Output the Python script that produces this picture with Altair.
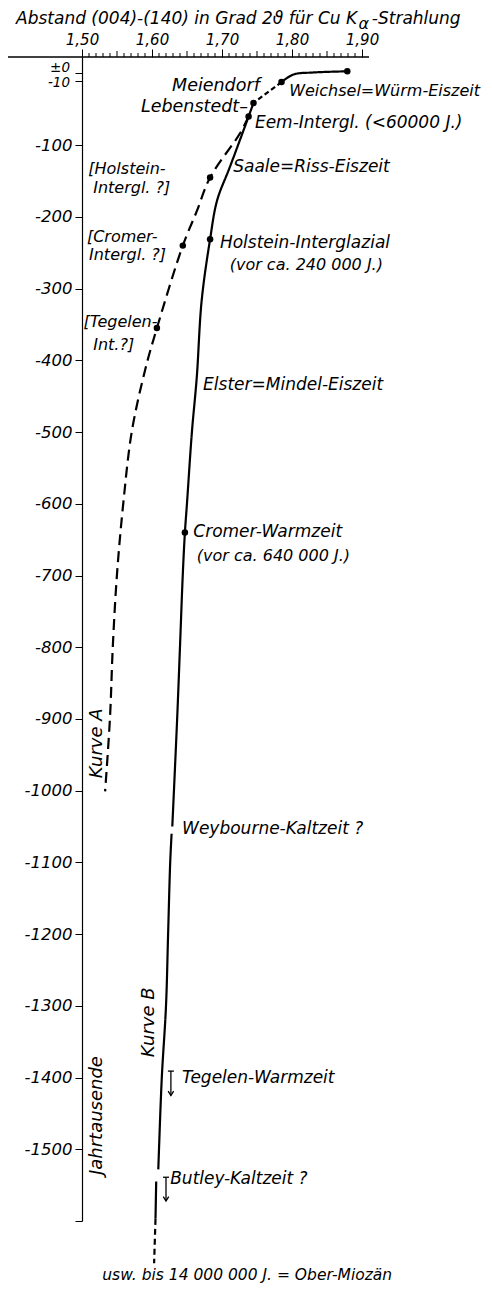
import altair as alt
import pandas as pd

FONT = "DejaVu Sans"

# ---- curve data (x = Abstand in Grad 2θ, y = Jahrtausende) ----
B_TOP_X = [1.879, 1.830, 1.802, 1.785]
B_TOP_Y = [3, 1.4, -1.4, -12]
B_MEI_X = [1.785, 1.745]
B_MEI_Y = [-12, -41]
B_MAIN_X = [1.745, 1.738, 1.711, 1.693, 1.683, 1.671, 1.664, 1.657, 1.650, 1.647, 1.644, 1.640, 1.636, 1.629]
B_MAIN_Y = [-41, -60, -131, -177, -231, -316, -423, -500, -599, -640, -698, -799, -898, -1050]
B_MID_X = [1.628, 1.626, 1.623, 1.620, 1.614, 1.610, 1.609]
B_MID_Y = [-1060, -1100, -1200, -1300, -1400, -1500, -1528]
B_LOW_X = [1.606, 1.605]
B_LOW_Y = [-1545, -1597]
B_TAIL_X = [1.605, 1.603]
B_TAIL_Y = [-1597, -1659]
A_X = [1.738, 1.726, 1.683, 1.664, 1.644, 1.607, 1.590, 1.571, 1.559, 1.550, 1.544, 1.540, 1.533]
A_Y = [-60, -83, -145, -192, -240, -355, -414, -500, -599, -698, -799, -898, -1001]

POINT_X = [1.879, 1.785, 1.745, 1.738, 1.683, 1.647, 1.683, 1.644, 1.607]
POINT_Y = [3, -12, -41, -60, -231, -640, -145, -240, -355]

# ---- annotations ----
LEFT_TEXT = ["Eem-Intergl. (<60000 J.)", "Saale=Riss-Eiszeit",
             "Holstein-Interglazial", "Elster=Mindel-Eiszeit",
             "Cromer-Warmzeit", "Weybourne-Kaltzeit ?",
             "Tegelen-Warmzeit", "Butley-Kaltzeit ?"]
LEFT_X = [1.747, 1.716, 1.697, 1.673, 1.659, 1.643, 1.643, 1.626]
LEFT_Y = [-69, -131, -237, -434, -640, -1053, -1401, -1541]

SMALL_TEXT = ["Weichsel=Würm-Eiszeit", "[Holstein-", "Intergl. ?]", "[Cromer-", "Intergl. ?]",
              "[Tegelen-", "Int.?]", "(vor ca. 240 000 J.)", "(vor ca. 640 000 J.)"]
SMALL_X = [1.796, 1.509, 1.516, 1.507, 1.510, 1.502, 1.516, 1.711, 1.664]
SMALL_Y = [-25, -133, -160, -228, -253, -347, -379, -267, -673]

RIGHT_TEXT = ["Meiendorf", "Lebenstedt–"]
RIGHT_X = [1.754, 1.737]
RIGHT_Y = [-17.5, -47]

ROT_TEXT = ["Kurve A", "Kurve B", "Jahrtausende"]
ROT_X = [1.521, 1.596, 1.521]
ROT_Y = [-934, -1323, -1453]

BOTTOM_TEXT = ["usw. bis 14 000 000 J. = Ober-Miozän"]
BOTTOM_X = [1.736]
BOTTOM_Y = [-1675]

TITLE_TEXT = ["Abstand (004)-(140) in Grad 2ϑ für Cu K", "α", "-Strahlung"]
TITLE_X = [1.893, 1.895, 1.914]
TITLE_Y = [75.7, 69, 75.7]

ARROW_X = [1.627, 1.620]
ARROW_TOP = [-1391, -1539]
ARROW_TIP = [-1425, -1572]

X_MAJOR = [1.50, 1.60, 1.70, 1.80, 1.90]
X_MEDIUM = [1.55, 1.65, 1.75, 1.85]
X_MINOR = [round(1.50 + i * 0.01, 2) for i in range(41) if i % 5 != 0]
Y_TICKS = [0, -10, -100, -200, -300, -400, -500, -600, -700, -800, -900, -1000,
           -1100, -1200, -1300, -1400, -1500, -1600]
ZERO_LABEL = ["±0"]
TEN_LABEL = ["-10"]

XDOM = [1.50, 1.91]
YDOM = [-1600, 23]

rows = []
def add(xs, ys, seg, style):
    for i, (a, b) in enumerate(zip(xs, ys)):
        rows.append({"x": a, "y": b, "seg": seg, "style": style, "o": i})

add(B_TOP_X, B_TOP_Y, "btop", "solid")
add(B_MEI_X, B_MEI_Y, "bmei", "short")
add(B_MAIN_X, B_MAIN_Y, "bmain", "solid")
add(B_MID_X, B_MID_Y, "bmid", "solid")
add(B_LOW_X, B_LOW_Y, "blow", "solid")
add(B_TAIL_X, B_TAIL_Y, "btail", "tail")
add(A_X, A_Y, "a", "long")
lines_df = pd.DataFrame(rows)

xs = alt.Scale(domain=XDOM, nice=False, zero=False)
ys = alt.Scale(domain=YDOM, nice=False, zero=False)

x_axis = alt.Axis(
    orient="top", values=X_MAJOR, domain=False, grid=False,
    labelExpr="replace(format(datum.value, '.2f'), '.', ',')",
    tickSize=8, tickColor="black", tickWidth=1, labelFont=FONT, labelFontStyle="italic",
    labelFontSize=15, labelColor="black", labelPadding=2, labelOverlap=False,
    labelBound=False, labelFlush=False, title=None)

y_axis = alt.Axis(
    orient="left", values=Y_TICKS, domain=True, domainColor="black", domainWidth=1.2,
    grid=False, tickSize=7, tickColor="black",
    labelExpr="datum.value >= -10 ? '' : (datum.value == -1600 ? '' : '-' + abs(datum.value))",
    labelFont=FONT, labelFontStyle="italic", labelFontSize=16.5, labelColor="black",
    labelPadding=3, labelOverlap=False, labelBound=False, labelFlush=False, title=None)

base_line = alt.Chart(lines_df).mark_line(color="black", strokeWidth=2.2,
                                          interpolate="catmull-rom", clip=False).encode(
    x=alt.X("x:Q", scale=xs, axis=x_axis),
    y=alt.Y("y:Q", scale=ys, axis=y_axis),
    detail="seg:N",
    order="o:Q",
    strokeDash=alt.StrokeDash("style:N", legend=None,
                              scale=alt.Scale(domain=["solid", "short", "long", "tail"],
                                              range=[[1, 0], [5, 3], [11, 6], [6, 4]])),
)

points = alt.Chart(pd.DataFrame({"x": POINT_X, "y": POINT_Y})).mark_circle(
    color="black", size=42, opacity=1).encode(
    x=alt.X("x:Q", scale=xs), y=alt.Y("y:Q", scale=ys))

# top axis line extending to the left edge
top_rule = alt.Chart(pd.DataFrame({"a": [0]})).mark_rule(color="black", strokeWidth=1.3).encode(
    x=alt.value(-82), x2=alt.value(287), y=alt.value(0))

def tick_layer(vals, length):
    return alt.Chart(pd.DataFrame({"x": vals})).mark_rule(color="black", strokeWidth=1).encode(
        x=alt.X("x:Q", scale=xs), y=alt.value(0), y2=alt.value(-length))

med_ticks = tick_layer(X_MEDIUM, 6)
min_ticks = tick_layer(X_MINOR, 4)

def text_layer(tx, xx, yy, align, angle=0, size=17, baseline="middle", dx=0, dy=0):
    df = pd.DataFrame({"t": tx, "x": xx, "y": yy})
    return alt.Chart(df).mark_text(align=align, baseline=baseline, font=FONT,
                                   fontStyle="italic", fontSize=size, color="black",
                                   angle=angle, dx=dx, dy=dy).encode(
        x=alt.X("x:Q", scale=xs), y=alt.Y("y:Q", scale=ys), text="t:N")

left_txt = text_layer(LEFT_TEXT, LEFT_X, LEFT_Y, "left", size=17)
small_txt = text_layer(SMALL_TEXT, SMALL_X, SMALL_Y, "left", size=16)
right_txt = text_layer(RIGHT_TEXT, RIGHT_X, RIGHT_Y, "right", size=17.5)
rot_txt = text_layer(ROT_TEXT, ROT_X, ROT_Y, "center", angle=270, size=18)
bottom_txt = text_layer(BOTTOM_TEXT, BOTTOM_X, BOTTOM_Y, "center", size=15.5)

title_main = text_layer(TITLE_TEXT[:1], TITLE_X[:1], TITLE_Y[:1], "right", size=17)
title_alpha = text_layer(TITLE_TEXT[1:2], TITLE_X[1:2], TITLE_Y[1:2], "left", size=16)
title_end = text_layer(TITLE_TEXT[2:], TITLE_X[2:], TITLE_Y[2:], "left", size=17)

zero_txt = text_layer(ZERO_LABEL, [XDOM[0]], [Y_TICKS[0]], "right", size=13.5,
                      baseline="bottom", dx=-12, dy=2)
ten_txt = text_layer(TEN_LABEL, [XDOM[0]], [Y_TICKS[1]], "right", size=13.5,
                     baseline="middle", dx=-12, dy=2)

arr_df = pd.DataFrame({"x": ARROW_X, "top": ARROW_TOP, "tip": ARROW_TIP})
arrow_shaft = alt.Chart(arr_df).mark_rule(color="black", strokeWidth=1.3).encode(
    x=alt.X("x:Q", scale=xs), y=alt.Y("top:Q", scale=ys), y2="tip:Q")
arrow_bar = alt.Chart(arr_df).mark_point(shape="M -1 0 L 1 0", filled=False, color="black",
                                         size=36, strokeWidth=1.3, opacity=1).encode(
    x=alt.X("x:Q", scale=xs), y=alt.Y("top:Q", scale=ys))
arrow_head = alt.Chart(arr_df).mark_point(shape="M -1 -1.6 L 0 0 L 1 -1.6", filled=False,
                                          color="black", size=30, strokeWidth=1.3,
                                          opacity=1).encode(
    x=alt.X("x:Q", scale=xs), y=alt.Y("tip:Q", scale=ys))

chart = alt.layer(
    base_line, points, top_rule, med_ticks, min_ticks,
    left_txt, small_txt, right_txt, rot_txt, bottom_txt,
    title_main, title_alpha, title_end, zero_txt, ten_txt,
    arrow_shaft, arrow_bar, arrow_head
).properties(
    width=287, height=1164, autosize="none",
    padding={"left": 74, "top": 49, "right": 115, "bottom": 64},
    background="white",
).configure_view(stroke=None)

chart.save("out.html", embed_options={"renderer": "svg", "actions": False})
